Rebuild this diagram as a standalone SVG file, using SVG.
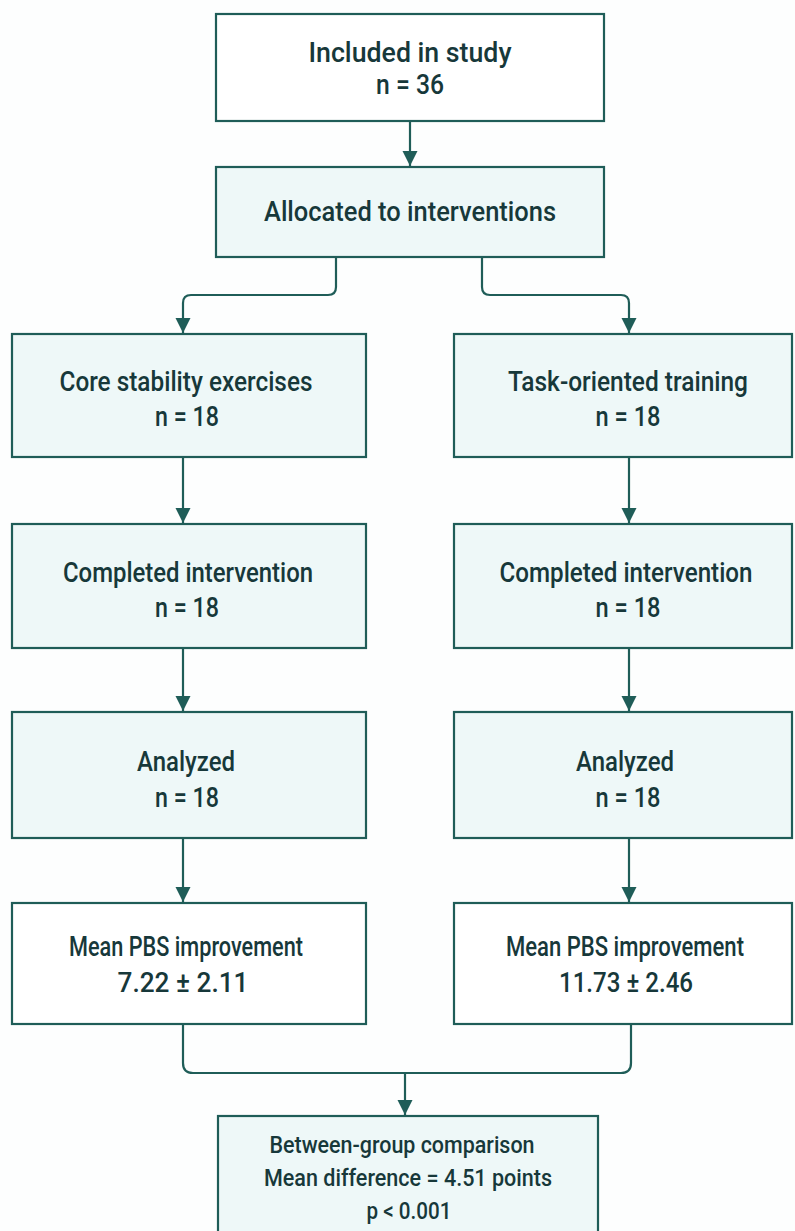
<svg xmlns="http://www.w3.org/2000/svg" width="795" height="1231" viewBox="0 0 795 1231">
<style>
.box{stroke:#1f5d58;stroke-width:2.2}
.w{fill:#ffffff}
.l{fill:#eef8f8}
.t{font-family:Roboto,"Liberation Sans",sans-serif;font-weight:500;fill:#17383a;text-anchor:middle;font-size:28.5px}
.s{font-size:24px}
.c{fill:none;stroke:#1f5d58;stroke-width:2.2}
</style>
<defs>
<marker id="ah" markerUnits="userSpaceOnUse" markerWidth="16" markerHeight="16" refX="15" refY="7.5" orient="auto">
<path d="M0,0 L15,7.5 L0,15 z" fill="#1f5d58"/>
</marker>
</defs>
<rect width="795" height="1231" fill="#fdfefe"/>
<g id="connectors">
<path class="c" d="M410,121 V166" marker-end="url(#ah)"/>
<path class="c" d="M336,257 V287 Q336,295 328,295 H191 Q183,295 183,303 V333" marker-end="url(#ah)"/>
<path class="c" d="M482,257 V287 Q482,295 490,295 H621 Q629,295 629,303 V333" marker-end="url(#ah)"/>
<path class="c" d="M183,457 V523" marker-end="url(#ah)"/>
<path class="c" d="M183,648 V711" marker-end="url(#ah)"/>
<path class="c" d="M183,838 V902" marker-end="url(#ah)"/>
<path class="c" d="M629,457 V523" marker-end="url(#ah)"/>
<path class="c" d="M629,648 V711" marker-end="url(#ah)"/>
<path class="c" d="M629,838 V902" marker-end="url(#ah)"/>
<path class="c" d="M183,1024 V1063 Q183,1073 193,1073 H621 Q631,1073 631,1063 V1024"/>
<path class="c" d="M405,1073 V1115" marker-end="url(#ah)"/>
</g>
<g id="included">
<rect class="box w" x="216" y="14" width="388" height="107"/>
<text class="t" x="410" y="62" textLength="203" lengthAdjust="spacingAndGlyphs">Included in study</text>
<text class="t" x="410" y="94" textLength="68" lengthAdjust="spacingAndGlyphs">n = 36</text>
</g>
<g id="allocated">
<rect class="box l" x="216" y="167" width="388" height="90"/>
<text class="t" x="410" y="221" textLength="292" lengthAdjust="spacingAndGlyphs">Allocated to interventions</text>
</g>
<g id="core">
<rect class="box l" x="12" y="334" width="354" height="123"/>
<text class="t" x="186" y="391" textLength="253" lengthAdjust="spacingAndGlyphs">Core stability exercises</text>
<text class="t" x="187" y="426" textLength="64" lengthAdjust="spacingAndGlyphs">n = 18</text>
</g>
<g id="task">
<rect class="box l" x="454" y="334" width="338" height="123"/>
<text class="t" x="628" y="391" textLength="240" lengthAdjust="spacingAndGlyphs">Task-oriented training</text>
<text class="t" x="628" y="426" textLength="65" lengthAdjust="spacingAndGlyphs">n = 18</text>
</g>
<g id="completed-left">
<rect class="box l" x="12" y="524" width="354" height="124"/>
<text class="t" x="188" y="582" textLength="250" lengthAdjust="spacingAndGlyphs">Completed intervention</text>
<text class="t" x="187" y="617" textLength="64" lengthAdjust="spacingAndGlyphs">n = 18</text>
</g>
<g id="completed-right">
<rect class="box l" x="454" y="524" width="338" height="124"/>
<text class="t" x="626" y="582" textLength="253" lengthAdjust="spacingAndGlyphs">Completed intervention</text>
<text class="t" x="628" y="617" textLength="65" lengthAdjust="spacingAndGlyphs">n = 18</text>
</g>
<g id="analyzed-left">
<rect class="box l" x="12" y="712" width="354" height="126"/>
<text class="t" x="186" y="771" textLength="98" lengthAdjust="spacingAndGlyphs">Analyzed</text>
<text class="t" x="187" y="807" textLength="64" lengthAdjust="spacingAndGlyphs">n = 18</text>
</g>
<g id="analyzed-right">
<rect class="box l" x="454" y="712" width="338" height="126"/>
<text class="t" x="625" y="771" textLength="98" lengthAdjust="spacingAndGlyphs">Analyzed</text>
<text class="t" x="628" y="807" textLength="65" lengthAdjust="spacingAndGlyphs">n = 18</text>
</g>
<g id="mean-left">
<rect class="box w" x="12" y="903" width="354" height="121"/>
<text class="t" x="186" y="956" textLength="234" lengthAdjust="spacingAndGlyphs">Mean PBS improvement</text>
<text class="t" x="183" y="992" textLength="131" lengthAdjust="spacingAndGlyphs">7.22 ± 2.11</text>
</g>
<g id="mean-right">
<rect class="box w" x="454" y="903" width="338" height="121"/>
<text class="t" x="625" y="956" textLength="238" lengthAdjust="spacingAndGlyphs">Mean PBS improvement</text>
<text class="t" x="626" y="992" textLength="134" lengthAdjust="spacingAndGlyphs">11.73 ± 2.46</text>
</g>
<g id="comparison">
<rect class="box l" x="218" y="1116" width="380" height="130"/>
<text class="t s" x="402" y="1153" textLength="265" lengthAdjust="spacingAndGlyphs">Between-group comparison</text>
<text class="t s" x="408" y="1186" textLength="288" lengthAdjust="spacingAndGlyphs">Mean difference = 4.51 points</text>
<text class="t s" x="409" y="1219" textLength="85" lengthAdjust="spacingAndGlyphs">p &lt; 0.001</text>
</g>
</svg>
